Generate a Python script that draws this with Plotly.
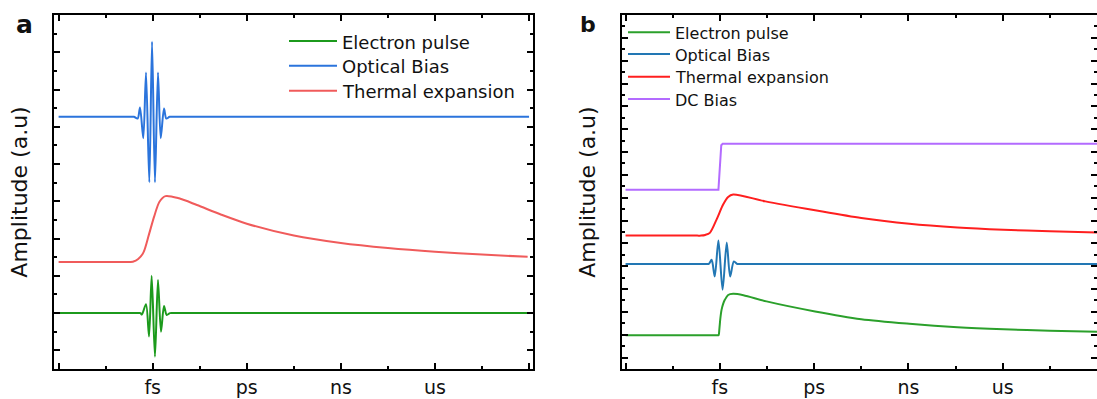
import plotly.graph_objects as go

W, H = 1097, 399

# ---------------- data (x in "time decade" units: 1=fs, 2=ps, 3=ns, 4=us) ----------------
x_tick_vals = [0, 1, 2, 3, 4, 5]
x_tick_text = ["", "fs", "ps", "ns", "us", ""]
x_minor_vals = [0.5, 1.5, 2.5, 3.5, 4.5]

series_names = ["Electron pulse", "Optical Bias", "Thermal expansion", "DC Bias"]

# panel a
a_electron_x = [0.0, 0.80, 0.850, 0.870, 0.885, 0.929, 0.961, 0.989, 1.024, 1.056, 1.088, 1.120,
                1.149, 1.184, 1.230, 2.0, 3.0, 4.0, 5.0]
a_electron_y = [1.0, 1.0, 1.0, 1.0, 0.96, 1.24, 0.37, 2.00, -0.17, 1.89, 0.50, 1.19,
                0.95, 1.0, 1.0, 1.0, 1.0, 1.0, 1.0]

a_optical_x = [0.0, 0.76, 0.800, 0.840, 0.865, 0.900, 0.929, 0.964, 0.993, 1.024, 1.056, 1.085,
               1.120, 1.145, 1.180, 1.220, 2.0, 3.0, 4.0, 5.0]
a_optical_y = [6.27, 6.27, 6.27, 6.22, 6.52, 5.69, 7.46, 4.51, 8.28, 4.51, 7.46, 5.69,
               6.49, 6.22, 6.27, 6.27, 6.27, 6.27, 6.27, 6.27]

a_thermal_x = [0.0, 0.40, 0.70, 0.789, 0.846, 0.902, 0.959, 1.015, 1.072, 1.136, 1.280, 1.470, 1.730,
               2.0, 2.5, 3.0, 3.5, 4.0, 4.5, 4.985]
a_thermal_y = [2.37, 2.37, 2.37, 2.38, 2.45, 2.63, 3.10, 3.59, 3.99, 4.14, 4.08, 3.90, 3.64,
               3.40, 3.08, 2.88, 2.745, 2.645, 2.57, 2.51]

# panel b
b_electron_x = [0.0, 0.50, 0.970, 0.986, 0.995, 1.005, 1.018, 1.035, 1.053, 1.088, 1.141, 1.250,
                1.495, 2.010, 2.500, 3.010, 3.520, 4.010, 4.500, 5.0]
b_electron_y = [0.98, 0.98, 0.98, 0.98, 1.25, 1.70, 2.09, 2.35, 2.53, 2.74, 2.79, 2.73,
                2.46, 2.02, 1.68, 1.48, 1.33, 1.24, 1.18, 1.13]

b_optical_x = [0.0, 0.80, 0.850, 0.883, 0.913, 0.946, 0.985, 1.029, 1.073, 1.109, 1.149, 1.185,
               1.225, 2.0, 3.0, 4.0, 5.0]
b_optical_y = [4.10, 4.10, 4.10, 4.10, 4.28, 3.55, 5.13, 2.97, 5.04, 3.55, 4.21, 4.10,
               4.10, 4.10, 4.10, 4.10, 4.10]

b_thermal_x = [0.0, 0.40, 0.760, 0.800, 0.845, 0.894, 0.965, 1.035, 1.088, 1.141, 1.483, 2.010,
               2.500, 3.010, 3.520, 4.010, 4.500, 5.0]
b_thermal_y = [5.34, 5.34, 5.34, 5.34, 5.37, 5.46, 6.04, 6.70, 7.03, 7.14, 6.84, 6.45,
               6.11, 5.86, 5.70, 5.60, 5.53, 5.48]

b_dc_x = [0.0, 0.985, 0.995, 1.005, 1.015, 1.030, 5.0]
b_dc_y = [7.35, 7.35, 8.00, 9.00, 9.30, 9.36, 9.36]

# colours
a_colors = ["#1c9a1c", "#2b74dc", "#f05b5b"]
b_colors = ["#2ba02b", "#2277b4", "#ff1f1f", "#b36bff"]

FONT = "DejaVu Sans"
TXT = "#111111"

fig = go.Figure()

def add(x, y, color, name, xa, ya, shape="spline"):
    line = dict(color=color, width=2, shape=shape)
    if shape == "spline":
        line["smoothing"] = 0.8
    fig.add_trace(go.Scatter(
        x=x, y=y, mode="lines", name=name, showlegend=False,
        line=line, xaxis=xa, yaxis=ya, hoverinfo="skip"))

add(a_electron_x, a_electron_y, a_colors[0], series_names[0], "x", "y")
add(a_optical_x, a_optical_y, a_colors[1], series_names[1], "x", "y")
add(a_thermal_x, a_thermal_y, a_colors[2], series_names[2], "x", "y")

add(b_electron_x, b_electron_y, b_colors[0], series_names[0], "x2", "y2")
add(b_optical_x, b_optical_y, b_colors[1], series_names[1], "x2", "y2")
add(b_thermal_x, b_thermal_y, b_colors[2], series_names[2], "x2", "y2")
add(b_dc_x, b_dc_y, b_colors[3], series_names[3], "x2", "y2", shape="linear")

def px(x):
    return x / W

def py(y):
    return 1 - y / H

ydom = [py(369), py(15)]

common_axis = dict(
    showline=True, linecolor="black", linewidth=2, mirror="allticks",
    ticks="inside", ticklen=6, tickwidth=2, tickcolor="black",
    showgrid=False, zeroline=False, automargin=False,
)

xcommon = dict(common_axis, tickmode="array", tickvals=x_tick_vals, ticktext=x_tick_text,
               tickfont=dict(family=FONT, size=19, color=TXT),
               minor=dict(tickmode="array", tickvals=x_minor_vals, ticks="inside",
                          ticklen=3, tickwidth=2, tickcolor="black", showgrid=False))
ycommon = dict(common_axis, tickmode="linear", tick0=0, dtick=1, showticklabels=False,
               minor=dict(tickmode="linear", tick0=0.5, dtick=1, ticks="inside",
                          ticklen=3, tickwidth=2, tickcolor="black", showgrid=False))

fig.update_layout(
    width=W, height=H, template="none",
    paper_bgcolor="white", plot_bgcolor="white",
    margin=dict(l=0, r=0, t=0, b=0),
    showlegend=False,
    xaxis=dict(xcommon, domain=[px(54), px(533)], range=[-0.049, 5.042], anchor="y"),
    yaxis=dict(ycommon, domain=ydom, range=[-0.5, 9.0], anchor="x",
               title=dict(text="Amplitude (a.u)", font=dict(family=FONT, size=22, color=TXT), standoff=18)),
    xaxis2=dict(xcommon, domain=[px(621.5), 1.0], range=[-0.043, 5.0], anchor="y2"),
    yaxis2=dict(ycommon, domain=ydom, range=[-0.5, 15.0], anchor="x2",
                title=dict(text="Amplitude (a.u)", font=dict(family=FONT, size=22, color=TXT), standoff=18)),
)

shapes = []
annotations = []

# manual legends
def legend(x0, x1, xt, rows_y, names, colors, size):
    for yy, nm, c in zip(rows_y, names, colors):
        shapes.append(dict(type="line", xref="paper", yref="paper",
                           x0=px(x0), x1=px(x1), y0=py(yy), y1=py(yy),
                           line=dict(color=c, width=2)))
        annotations.append(dict(text=nm, xref="paper", yref="paper", x=px(xt), y=py(yy + 1),
                                xanchor="left", yanchor="middle", showarrow=False,
                                font=dict(family=FONT, size=size, color=TXT)))

legend(289, 337, 340, [41, 65.7, 90.7], series_names[:3], a_colors, 18)
legend(628, 670, 673, [32.3, 54, 76.7, 99], series_names, b_colors, 16)

annotations.append(dict(text="<b>a</b>", xref="paper", yref="paper", x=px(14), y=py(24),
                        xanchor="left", yanchor="middle", showarrow=False,
                        font=dict(family=FONT, size=25, color=TXT)))
annotations.append(dict(text="<b>b</b>", xref="paper", yref="paper", x=px(578), y=py(24),
                        xanchor="left", yanchor="middle", showarrow=False,
                        font=dict(family=FONT, size=22, color=TXT)))

fig.update_layout(shapes=shapes, annotations=annotations)

fig.write_html("out.html")
